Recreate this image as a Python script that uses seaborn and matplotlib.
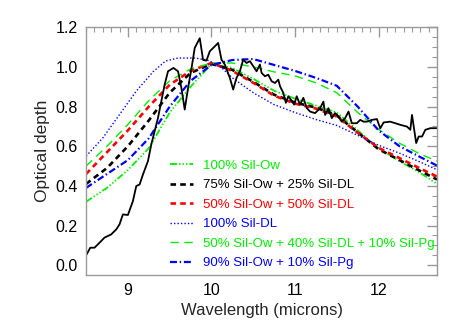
import numpy as np
import pandas as pd
import matplotlib
matplotlib.use("Agg")
import matplotlib.pyplot as plt
from matplotlib.ticker import MultipleLocator
import seaborn as sns

# ---------------- data ----------------
obs_wl = [8.50, 8.55, 8.60, 8.66, 8.72, 8.80, 8.86, 8.90, 8.94, 9.00, 9.06, 9.10, 9.14,
          9.18, 9.24, 9.28, 9.32, 9.36, 9.40, 9.44, 9.48, 9.545, 9.60, 9.64, 9.68, 9.72,
          9.76, 9.80, 9.86, 9.90, 9.94, 9.98, 10.04, 10.08, 10.12, 10.16, 10.22, 10.26,
          10.30, 10.34, 10.38, 10.42, 10.46, 10.50, 10.54, 10.58, 10.60, 10.64, 10.68,
          10.72, 10.76, 10.80, 10.82, 10.86, 10.89, 10.92, 10.95, 10.99, 11.02, 11.06,
          11.10, 11.14, 11.18, 11.24, 11.30, 11.34, 11.36, 11.40, 11.44, 11.48, 11.52,
          11.56, 11.60, 11.64, 11.68, 11.74, 11.78, 11.82, 11.86, 11.92, 11.98, 12.02,
          12.06, 12.14, 12.20, 12.26, 12.34, 12.38, 12.40, 12.45, 12.48, 12.52, 12.56,
          12.62, 12.70]
obs_tau = [0.050, 0.088, 0.088, 0.113, 0.139, 0.155, 0.180, 0.206, 0.256, 0.253, 0.323,
           0.399, 0.407, 0.457, 0.525, 0.609, 0.676, 0.743, 0.827, 0.911, 0.978, 0.995,
           0.978, 0.894, 0.785, 0.894, 0.990, 1.096, 1.145, 1.035, 1.032, 1.079, 1.104,
           1.121, 1.037, 1.012, 0.945, 0.886, 0.945, 0.978, 1.037, 1.020, 1.029, 1.004,
           0.978, 1.012, 0.970, 0.953, 0.961, 0.928, 0.919, 0.936, 0.903, 0.869, 0.819,
           0.852, 0.835, 0.810, 0.852, 0.810, 0.844, 0.793, 0.775, 0.767, 0.792, 0.825,
           0.758, 0.792, 0.742, 0.767, 0.750, 0.724, 0.742, 0.775, 0.716, 0.716, 0.733,
           0.724, 0.724, 0.733, 0.737, 0.690, 0.720, 0.724, 0.716, 0.708, 0.699, 0.683,
           0.758, 0.616, 0.649, 0.649, 0.683, 0.691, 0.691]

model_wl = [8.50, 8.75, 9.00, 9.25, 9.50, 9.75, 10.00, 10.25, 10.50, 10.75, 11.00,
            11.25, 11.50, 11.75, 12.00, 12.25, 12.50, 12.70]
sil_ow = [0.320, 0.390, 0.480, 0.590, 0.770, 0.900, 1.015, 0.995, 0.940, 0.880, 0.840,
          0.805, 0.770, 0.680, 0.590, 0.525, 0.465, 0.410]
ow75_dl25 = [0.410, 0.490, 0.600, 0.730, 0.870, 0.970, 1.015, 0.985, 0.925, 0.860, 0.820,
             0.795, 0.755, 0.670, 0.585, 0.530, 0.475, 0.432]
ow50_dl50 = [0.460, 0.570, 0.680, 0.800, 0.910, 0.980, 1.020, 0.980, 0.920, 0.855, 0.815,
             0.790, 0.750, 0.668, 0.592, 0.540, 0.487, 0.447]
sil_dl_wl = [8.50, 8.70, 8.90, 9.10, 9.30, 9.45, 9.60, 9.80, 9.95, 10.10, 10.25, 10.50,
             10.75, 11.00, 11.25, 11.50, 11.75, 12.00, 12.25, 12.50, 12.70]
sil_dl = [0.550, 0.642, 0.760, 0.878, 0.975, 1.030, 1.045, 1.045, 1.035, 1.005, 0.945,
          0.870, 0.810, 0.770, 0.735, 0.705, 0.655, 0.605, 0.565, 0.520, 0.481]
ow50_dl40_pg10 = [0.500, 0.600, 0.710, 0.830, 0.930, 0.990, 1.020, 1.020, 1.000, 0.975,
                  0.955, 0.920, 0.870, 0.770, 0.685, 0.615, 0.560, 0.525]
ow90_pg10 = [0.390, 0.460, 0.530, 0.640, 0.800, 0.930, 1.010, 1.035, 1.040, 1.010, 0.980,
             0.945, 0.905, 0.800, 0.680, 0.600, 0.545, 0.502]

labels = ["100% Sil-Ow", "75% Sil-Ow + 25% Sil-DL", "50% Sil-Ow + 50% Sil-DL",
          "100% Sil-DL", "50% Sil-Ow + 40% Sil-DL + 10% Sil-Pg", "90% Sil-Ow + 10% Sil-Pg"]
x_ticks = [9, 10, 11, 12]
y_ticks = [0.0, 0.2, 0.4, 0.6, 0.8, 1.0, 1.2]

# ---------------- style ----------------
sns.set_style("white")
plt.rcParams['font.family'] = ['Liberation Sans', 'DejaVu Sans']
plt.rcParams['lines.scale_dashes'] = False

GREEN = '#00ee00'
BLUE = '#0000ff'
RED = '#ff0000'

fig = plt.figure(figsize=(4.63, 3.31), dpi=100)
ax = fig.add_axes([0.186, 0.169, 0.758, 0.7485])

series = [
    (model_wl, sil_ow, GREEN, 1.3, (5, 1.5, 1, 1.5, 1, 1.5, 1, 1.5)),
    (model_wl, ow75_dl25, 'black', 1.9, (4, 3)),
    (model_wl, ow50_dl50, RED, 1.9, (4, 3)),
    (sil_dl_wl, sil_dl, BLUE, 1.0, (1, 1.5)),
    (model_wl, ow50_dl40_pg10, GREEN, 1.0, (6, 4)),
    (model_wl, ow90_pg10, BLUE, 1.6, (5, 2, 1, 2)),
]

handles = []
for (xw, yv, col, lw, dash), lab in zip(series, labels):
    df = pd.DataFrame({"wl": xw, "tau": yv})
    sns.lineplot(data=df, x="wl", y="tau", ax=ax, color=col, linewidth=lw,
                 estimator=None, sort=False, legend=False)
    ln = ax.lines[-1]
    ln.set_dashes(dash)
    handles.append(ln)

dfo = pd.DataFrame({"wl": obs_wl, "tau": obs_tau})
sns.lineplot(data=dfo, x="wl", y="tau", ax=ax, color='black', linewidth=1.3,
             estimator=None, sort=False, legend=False)

ax.set_xlim(8.5, 12.7)
ax.set_ylim(-0.05, 1.2)
ax.set_xticks(x_ticks)
ax.set_yticks(y_ticks)
ax.set_xticklabels([str(t) for t in x_ticks])
ax.set_yticklabels([f"{t:.1f}" for t in y_ticks])
ax.xaxis.set_minor_locator(MultipleLocator(0.1))
ax.yaxis.set_minor_locator(MultipleLocator(0.05))
ax.tick_params(which='both', direction='in', top=True, right=True, color='#999999',
               labelsize=11.5, labelcolor='black', pad=6)
ax.tick_params(which='major', length=7, width=1.0)
ax.tick_params(which='minor', length=3.5, width=0.8)
for s in ax.spines.values():
    s.set_color('#999999')
    s.set_linewidth(1.0)

ax.set_xlabel("Wavelength (microns)", fontsize=12, labelpad=3)
ax.set_ylabel("Optical depth", fontsize=12.5, labelpad=4)

leg = ax.legend(handles, labels, loc='upper left', bbox_to_anchor=(0.225, 0.488),
                frameon=False, fontsize=9.5, handlelength=1.75, handletextpad=0.75,
                labelspacing=0.55, borderaxespad=0)
for txt, (_, _, col, _, _) in zip(leg.get_texts(), series):
    txt.set_color(col)

fig.savefig("out.png", dpi=100)
